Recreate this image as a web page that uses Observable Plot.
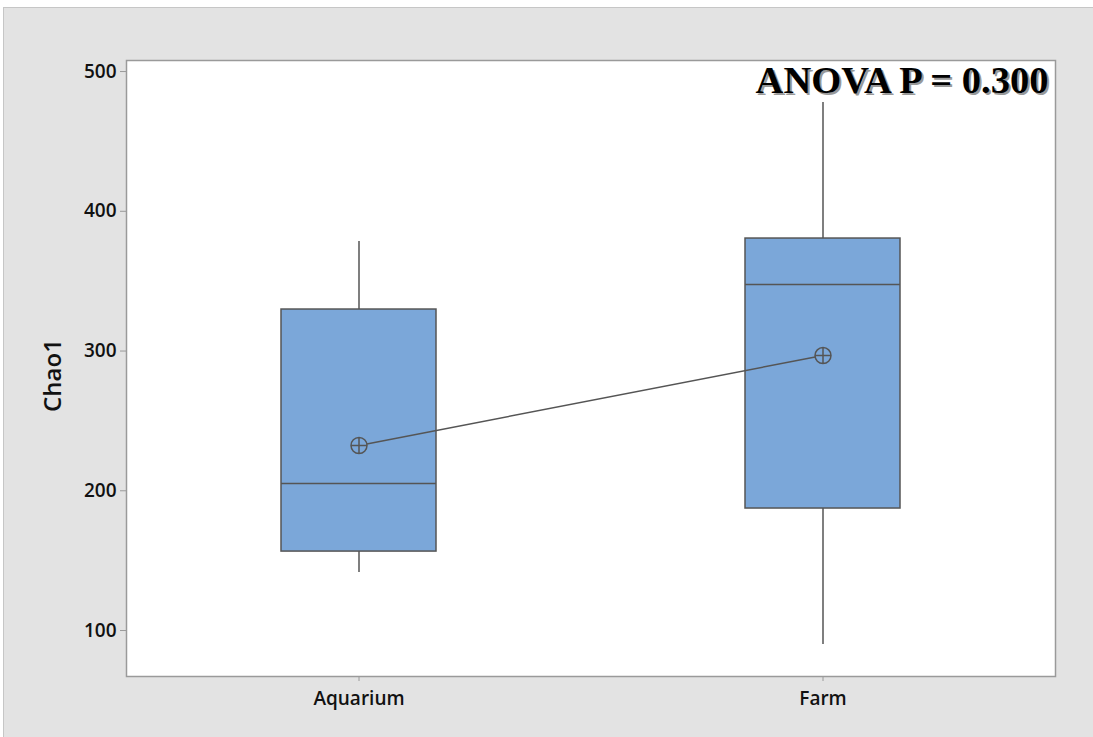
<!DOCTYPE html>
<html>
<head>
<meta charset="utf-8">
<script src="https://cdn.jsdelivr.net/npm/d3@7"></script>
<script src="https://cdn.jsdelivr.net/npm/@observablehq/plot@0.6"></script>
<style>
  body { margin: 0; background: #ffffff; width: 1093px; height: 737px; overflow: hidden; position: relative; }
  #bg { position: absolute; left: 3px; top: 7px; width: 1100px; height: 740px; background: #e3e3e3; border: 1px solid #c6c6c6; }
  #chart { position: absolute; left: 0; top: 0; }
</style>
</head>
<body>
<div id="bg"></div>
<div id="chart"></div>
<script>
const groups = ["Aquarium", "Farm"];
const whiskerLow = [141.5, 90];
const q1 = [156.5, 187.3];
const median = [205.2, 347.6];
const q3 = [329.7, 380.5];
const whiskerHigh = [378.4, 477.8];
const means = [232.4, 296.8];
const yTicks = [100, 200, 300, 400, 500];
const title = "ANOVA P = 0.300";
const yLabel = "Chao1";

const data = groups.map((g, i) => ({
  group: g, lo: whiskerLow[i], q1: q1[i], med: median[i], q3: q3[i], hi: whiskerHigh[i], mean: means[i]
}));

const circlePlus = {
  draw(ctx, size) {
    const r = Math.sqrt(size / Math.PI);
    ctx.moveTo(r, 0);
    ctx.arc(0, 0, r, 0, 2 * Math.PI);
    ctx.moveTo(-r, 0); ctx.lineTo(r, 0);
    ctx.moveTo(0, -r); ctx.lineTo(0, r);
  }
};

const chart = Plot.plot({
  width: 1093,
  height: 737,
  marginLeft: 126,
  marginRight: 38,
  marginTop: 60,
  marginBottom: 61,
  style: { background: "transparent", fontFamily: "'Open Sans', sans-serif", fontSize: "19px", color: "#111" },
  x: { type: "band", domain: groups, paddingInner: 0.666, paddingOuter: 0.333, axis: null },
  y: { domain: [67.1, 507.9], axis: null },
  marks: [
    Plot.frame({ fill: "white", stroke: "#9a9a9a", strokeWidth: 1.5 }),
    Plot.axisY({ ticks: yTicks, tickSize: 6, tickPadding: 4, stroke: "#9a9a9a", fill: "#111", label: null, fontWeight: 600 }),
    Plot.axisX({ tickSize: 5, tickPadding: 10, stroke: "#9a9a9a", fill: "#111", label: null, fontWeight: 600 }),
    Plot.ruleX(data, { x: "group", y1: "lo", y2: "q1", stroke: "#555", strokeWidth: 1.5 }),
    Plot.ruleX(data, { x: "group", y1: "q3", y2: "hi", stroke: "#555", strokeWidth: 1.5 }),
    Plot.barY(data, { x: "group", y1: "q1", y2: "q3", fill: "#7ba7d9", stroke: "#555", strokeWidth: 1.5 }),
    Plot.tickY(data, { x: "group", y: "med", stroke: "#555", strokeWidth: 1.5 }),
    Plot.line(data, { x: "group", y: "mean", stroke: "#555", strokeWidth: 1.5 }),
    Plot.dot(data, { x: "group", y: "mean", r: 8, symbol: circlePlus, fill: "#7ba7d9", stroke: "#555", strokeWidth: 1.5 }),
    Plot.text([yLabel], { frameAnchor: "left", textAnchor: "middle", dx: -73, dy: 7, rotate: -90, fontSize: 24, fill: "#111", fontWeight: 600 }),
    Plot.text([title], { frameAnchor: "top-right", textAnchor: "end", lineAnchor: "bottom", dx: -5, dy: 34, fontSize: 38.5, fontFamily: "'Liberation Serif', serif", fontWeight: "bold", fill: "#999" }),
    Plot.text([title], { frameAnchor: "top-right", textAnchor: "end", lineAnchor: "bottom", dx: -7, dy: 32, fontSize: 38.5, fontFamily: "'Liberation Serif', serif", fontWeight: "bold", fill: "#000" })
  ]
});
document.getElementById("chart").appendChild(chart);
</script>
</body>
</html>
